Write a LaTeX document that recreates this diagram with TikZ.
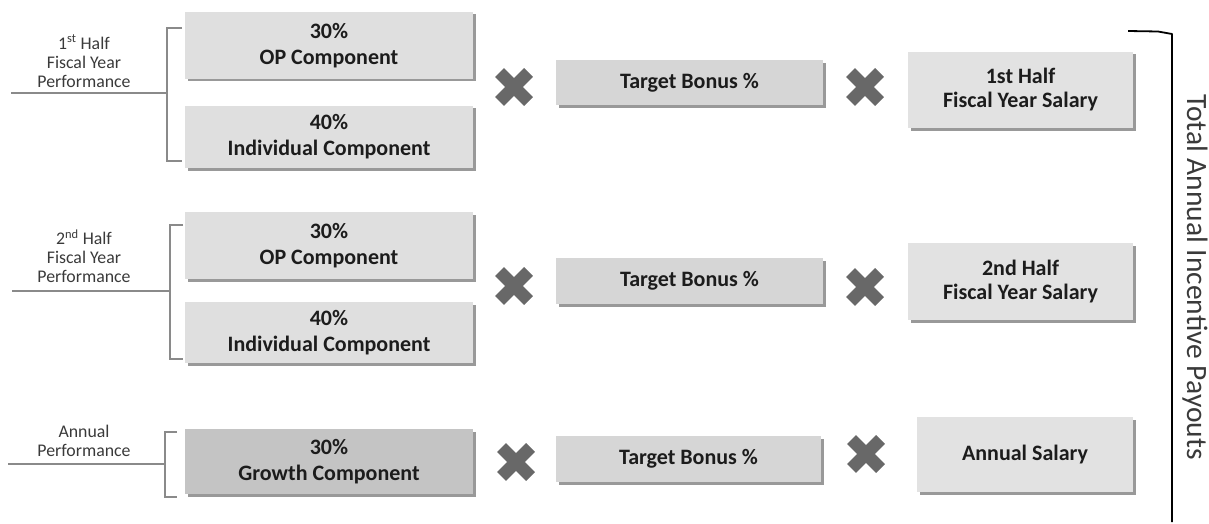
\documentclass[tikz,border=0pt]{standalone}
\usepackage{fontspec}
\setmainfont{Carlito}
\usetikzlibrary{shadows,shapes.misc}
\definecolor{boxA}{HTML}{DFDFDF}
\definecolor{boxT}{HTML}{D6D6D6}
\definecolor{boxG}{HTML}{C4C4C4}
\definecolor{boxS}{HTML}{E2E2E2}
\definecolor{xcol}{HTML}{686868}
\definecolor{gline}{HTML}{8A8A8A}
\definecolor{txt}{HTML}{1C1C1C}
\definecolor{ltxt}{HTML}{3A3A3A}
\begin{document}
\begin{tikzpicture}[x=1pt,y=-1pt,
  box/.style={fill=boxA, minimum width=288pt, align=center, inner sep=0pt,
    font=\bfseries\fontsize{22}{26}\selectfont, text=txt,
    drop shadow={shadow xshift=2.5pt, shadow yshift=-2.5pt, fill=black, opacity=0.4}},
  tbox/.style={box, fill=boxT, minimum width=267pt, minimum height=45pt},
  sbox/.style={box, fill=boxS, minimum width=225pt, font=\bfseries\fontsize{22}{24}\selectfont},
  mult/.style={cross out, draw=xcol, line width=12.5pt, minimum size=29pt, inner sep=0pt, outer sep=0pt},
  lab/.style={align=center, font=\fontsize{17.8}{19}\selectfont, text=ltxt},
  brk/.style={draw=gline, line width=1.1pt}
]
\useasboundingbox (0,0) rectangle (1209,524);

% ---------- row 1
\node[lab] (lab1) at (84,61) {1\textsuperscript{st} Half\\Fiscal Year\\Performance};
\node[box, minimum height=67pt] (op1) at (329,45.5) {30\%\\OP Component};
\node[box, minimum height=62pt] (ind1) at (329,137) {40\%\\Individual Component};
\node[mult] (xa1) at (514,87) {};
\node[tbox] (tb1) at (689.5,83) {Target Bonus \%};
\node[mult] (xb1) at (865,87) {};
\node[sbox, minimum height=76pt] (s1) at (1020.5,90) {1st Half\\Fiscal Year Salary};
\coordinate (l1a) at (11,93);
\coordinate (l1b) at (167,93);
\coordinate (b1t) at (182,28);
\coordinate (b1b) at (182,161);
\draw[brk] (l1a) -- (l1b);
\draw[brk] (b1t) -| (b1b -| l1b) -- (b1b);

% ---------- row 2
\node[lab] (lab2) at (84,256) {2\textsuperscript{nd} Half\\Fiscal Year\\Performance};
\node[box, minimum height=67pt] (op2) at (329,245.5) {30\%\\OP Component};
\node[box, minimum height=61pt] (ind2) at (329,332.5) {40\%\\Individual Component};
\node[mult] (xa2) at (514,286) {};
\node[tbox, minimum height=46pt] (tb2) at (689.5,281) {Target Bonus \%};
\node[mult] (xb2) at (865,287) {};
\node[sbox, minimum height=77pt] (s2) at (1020.5,281.5) {2nd Half\\Fiscal Year Salary};
\coordinate (l2a) at (12,291);
\coordinate (l2b) at (170,291);
\coordinate (b2t) at (183,225);
\coordinate (b2b) at (183,359);
\draw[brk] (l2a) -- (l2b);
\draw[brk] (b2t) -| (b2b -| l2b) -- (b2b);

% ---------- row 3
\node[lab] (lab3) at (84,441) {Annual\\Performance};
\node[box, fill=boxG, minimum height=65pt] (gr) at (329,461.5) {30\%\\Growth Component};
\node[mult] (xa3) at (516,462) {};
\node[tbox, minimum width=265pt, minimum height=46pt] (tb3) at (688.5,459) {Target Bonus \%};
\node[mult] (xb3) at (866,454) {};
\node[sbox, minimum width=216pt, minimum height=75pt] (s3) at (1025,454.5) {Annual Salary};
\coordinate (l3a) at (8,464);
\coordinate (l3b) at (165,464);
\coordinate (b3t) at (177,432);
\coordinate (b3b) at (177,497);
\draw[brk] (l3a) -- (l3b);
\draw[brk] (b3t) -| (b3b -| l3b) -- (b3b);

% ---------- total bracket
\coordinate (r0) at (1128,31);
\coordinate (r1) at (1158,31.5);
\coordinate (r2) at (1172,34);
\coordinate (r3) at (1172,522);
\draw[black, line width=1.8pt, line join=round] (r0) -- (r1) -- (r2) -- (r3);
\node[rotate=-90, anchor=base, font=\fontsize{29.5}{30}\selectfont, text=ltxt] (tot) at (1187,277) {Total Annual Incentive Payouts};
\end{tikzpicture}
\end{document}
